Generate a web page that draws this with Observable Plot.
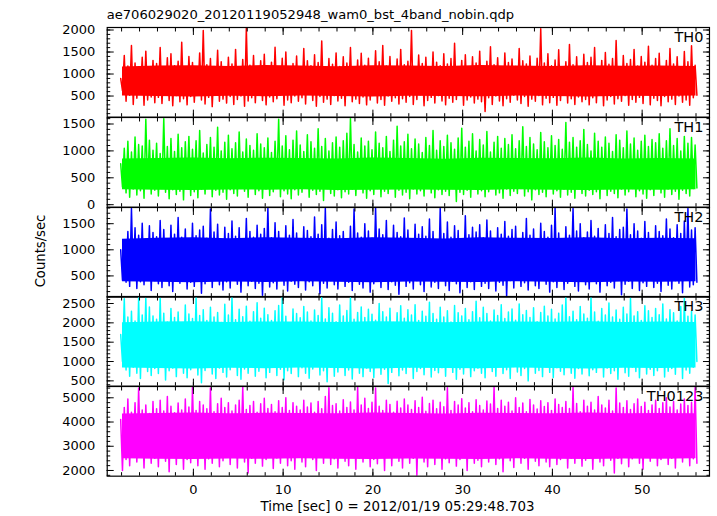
<!DOCTYPE html>
<html>
<head>
<meta charset="utf-8">
<script src="https://cdn.jsdelivr.net/npm/d3@7"></script>
<script src="https://cdn.jsdelivr.net/npm/@observablehq/plot@0.6"></script>
<style>
  html, body { margin: 0; padding: 0; background: white; }
  #chart { position: relative; width: 717px; height: 516px; background: white; color: black; font-family: "DejaVu Sans", sans-serif; overflow: hidden; }
  #chart svg { position: absolute; left: 0; }
  .txt { position: absolute; white-space: nowrap; font-family: "DejaVu Sans", sans-serif; color: black; }
</style>
</head>
<body>
<div id="chart"></div>
<script>
// ---------- data ----------
const titleText = "ae706029020_20120119052948_wam0_bst_4band_nobin.qdp";
const xLabelText = "Time [sec] 0 = 2012/01/19 05:29:48.703";
const yLabelText = "Counts/sec";
const seriesNames = ["TH0", "TH1", "TH2", "TH3", "TH0123"];
const seriesColors = ["#ff0000", "#00ff00", "#0000ff", "#00ffff", "#ff00ff"];

const sampleStart = -8.1;   // s, time of first sample
const sampleStep = 0.2;     // s between samples
const xTicks = [0, 10, 20, 30, 40, 50];

const th0 = [
900,620,1420,380,1180,520,1650,310,1250,450,1080,560,1380,290,1520,410,1150,480,1310,350,
1240,470,1600,330,1120,540,1370,400,1460,280,1190,510,1290,370,1720,440,1130,300,1400,490,
1260,360,1090,520,1480,410,1990,320,1210,470,1350,260,1170,550,1540,380,1280,430,1100,340,
1380,490,1230,310,1560,420,1140,500,1330,270,2040,390,1200,460,1420,350,1120,530,1300,400,
1450,300,1180,480,1270,370,1610,440,1090,520,1360,290,1500,410,1150,350,1240,500,1410,380,
1130,460,1580,320,1300,540,1190,400,1440,270,1260,490,1750,360,1110,430,1350,310,1220,510,
1480,390,1170,450,1390,280,1250,520,1600,370,1080,430,1320,330,1470,480,1200,300,1360,410,
1140,550,1530,340,1280,420,1650,290,1180,500,1400,380,1100,460,1340,320,1560,440,1210,360,
1290,490,1990,310,1150,420,1430,530,1240,280,1380,400,1120,470,1500,340,1270,510,1190,390,
1460,300,1230,450,1350,360,1700,420,1160,520,1310,290,1440,410,1090,480,1390,340,1250,430,
1520,370,1180,150,1290,460,1620,310,1210,500,1370,390,1130,280,1480,440,1260,360,1340,520,
1170,410,1580,330,1300,490,1230,270,1410,430,1120,380,1360,510,2030,300,1250,450,1460,350,
1190,470,1320,290,1550,400,1140,520,1280,340,1670,440,1210,310,1390,480,1100,370,1450,420,
1260,300,1380,460,1600,350,1170,530,1310,280,1490,410,1220,490,1350,320,1760,440,1150,380,
1420,510,1240,290,1330,420,1560,360,1180,470,1400,330,1270,540,1630,300,1200,450,1350,400,
1470,280,1160,490,1310,370,1580,430,1230,310,1390,500,1120,360,1510,410,1280,290,1640,460,
1200,520];

const th1 = [
760,330,1050,220,1180,140,980,290,1260,180,1120,260,1090,120,1590,310,1200,200,1010,270,
1140,160,950,300,1600,230,1080,110,1230,280,990,190,1310,250,1060,90,1170,320,1270,170,
1030,240,1190,130,1380,290,960,200,1120,310,1250,150,1070,270,1440,180,1000,230,1160,100,
1290,280,1040,210,1150,160,1350,300,980,250,1220,140,1100,320,1010,190,1320,260,1130,120,
1060,290,1240,170,970,240,1180,300,1590,150,1090,260,1280,200,1020,110,1200,280,1370,180,
1110,230,990,310,1300,140,1170,270,1050,190,1410,250,1080,80,1230,300,1000,210,1150,160,
1260,280,1070,130,1190,240,1330,200,1600,290,1120,170,980,310,1240,220,1090,120,1180,260,
1020,190,1350,300,1140,150,1060,250,1270,210,990,320,1200,140,1460,270,1090,180,1170,230,
1310,110,1040,290,1220,200,1130,260,970,160,1250,310,1100,220,1380,130,1010,280,1190,190,
1080,250,1290,170,1150,300,1030,60,1240,230,1420,190,1070,270,1180,140,1320,310,1000,200,
1210,260,1110,150,1360,240,980,300,1160,180,1270,220,1050,120,1230,290,1120,170,1300,250,
1040,210,1190,300,1450,160,1080,240,1250,90,1130,280,1020,190,1340,230,1170,150,1060,310,
1280,200,1100,260,1210,140,1030,290,1530,180,1160,230,1250,120,1070,300,1190,210,1400,160,
1120,270,1000,190,1330,240,1180,110,1070,300,1260,170,1140,250,990,210,1300,130,1200,290,
1060,180,1370,240,1130,300,1240,150,1010,260,1180,200,1290,120,1080,280,1210,170,1150,310,
1320,220,1050,140,1190,290,1410,190,1100,250,1230,100,1000,270,1270,210,1140,160,1250,300,
1110,310];

const th2 = [
1000,420,1050,380,1350,300,1790,450,1420,260,1280,390,1510,330,1200,470,1460,220,1330,410,
1250,350,1560,280,1390,460,1180,310,1470,200,1300,430,1620,360,1240,490,1400,250,1150,380,
1510,300,1270,440,1380,170,1450,350,1220,410,1780,280,1340,460,1490,330,1200,230,1430,390,
1310,270,1550,420,1260,340,1420,190,1180,480,1600,310,1350,400,1240,260,1470,360,1300,130,
1410,440,1800,290,1230,370,1520,250,1350,450,1190,320,1460,210,1280,400,1580,340,1320,280,
1200,470,1440,230,1370,390,1250,310,1630,430,1300,160,1480,360,1790,270,1220,410,1390,330,
1530,250,1270,460,1350,300,1190,380,1450,220,1780,420,1320,340,1240,270,1500,410,1360,190,
1220,350,1800,430,1400,280,1290,470,1560,240,1180,390,1470,320,1330,150,1250,440,1610,300,
1380,370,1210,250,1490,410,1300,330,1440,200,1260,460,1590,290,1350,380,1170,260,1790,430,
1310,310,1530,220,1240,400,1460,350,1370,180,1200,470,1650,280,1290,390,1430,240,1340,420,
1480,300,1230,360,1570,260,1360,440,1190,210,1420,380,1300,320,1540,100,1260,410,1390,270,
1450,460,1210,300,1330,370,1600,230,1280,420,1400,310,1170,260,1510,450,1350,340,1240,190,
1470,390,1800,280,1320,420,1190,240,1440,360,1280,470,1790,300,1360,210,1500,400,1230,330,
1340,250,1560,430,1260,350,1410,190,1200,460,1480,310,1310,380,1620,270,1250,420,1390,140,
1430,340,1780,400,1290,260,1500,450,1360,220,1220,370,1540,300,1330,430,1180,280,1460,360,
1350,200,1270,470,1590,320,1400,250,1230,410,1480,360,1310,180,1550,440,1790,290,1380,330,
1420,380];

const th3 = [
1700,1000,2620,780,2150,620,2300,850,2050,700,2640,560,2200,900,2630,740,2410,640,2180,820,
2090,690,2630,880,2250,520,2020,760,2370,830,2140,610,2280,940,1990,700,2460,580,2230,790,
2110,860,2640,650,2190,450,2340,770,2060,910,2400,680,2150,560,2270,830,2010,720,2480,600,
2200,790,2640,870,2080,640,2350,540,2160,810,2430,700,2040,930,2290,620,2520,750,2120,850,
2380,580,2210,720,2060,890,2310,640,2450,800,2650,530,2170,760,2000,690,2360,920,2240,610,
2130,840,2420,700,2280,570,2050,810,2330,890,2190,650,2650,760,2100,480,2390,850,2250,620,
2030,730,2460,900,2180,640,2320,780,2640,550,2090,860,2270,700,2410,610,2140,830,2350,740,
2220,590,2070,880,2500,670,2290,800,2150,430,2380,720,2010,910,2260,630,2440,780,2120,690,
2340,850,2200,560,2470,740,2060,820,2300,660,2170,930,2530,600,2240,770,2090,710,2400,840,
2150,620,2310,890,2020,720,2450,540,2260,800,2180,680,2370,930,2080,610,2290,760,2560,830,
2130,700,2400,580,2240,850,2050,740,2330,620,2190,900,2470,690,2110,790,2280,560,2360,870,
2070,730,2490,640,2210,820,2320,500,2140,890,2390,700,2030,770,2270,610,2430,860,2180,720,
2350,590,2100,840,2250,750,2460,660,2640,910,2160,700,2300,570,2080,820,2420,680,2230,880,
2120,630,2640,790,2280,720,2040,900,2370,600,2200,830,2510,690,2150,760,2330,540,2090,870,
2400,710,2230,620,2630,850,2180,740,2290,580,2060,900,2440,680,2310,800,2140,640,2370,760,
2210,880,2490,600,2100,750,2340,820,2260,670,2050,930,2420,560,2630,780,2170,700,2300,850,
2200,1000];

const th0123 = [
4100,2000,4600,2450,4950,2200,4400,2650,4800,2350,5400,2550,4500,2100,4700,2700,4350,2300,4850,2500,
4550,2150,4900,2600,4450,2380,5050,1950,4650,2550,4380,2250,4780,2700,4500,2050,4950,2450,4620,2320,
5420,2580,4480,2200,4850,2650,4700,2050,4550,2480,5400,2300,4420,2720,4750,2150,4980,2400,4600,2600,
4800,2250,4450,2550,4700,2100,4900,2700,5430,2350,4520,1900,4680,2500,4850,2300,4400,2650,4750,2180,
4980,2450,4560,2600,4720,2080,4420,2520,4880,2300,4600,2750,5000,2200,4480,2400,4800,2050,4650,2580,
4500,2350,4900,2150,4620,2650,4780,2450,4400,2000,4850,2550,4550,2300,5050,2700,5410,2250,4680,2480,
4750,2100,4450,2620,4920,2380,4600,2200,4830,2700,4500,2050,5440,2500,4700,2350,4980,2600,4560,2150,
4820,2450,5400,2280,4650,2650,4480,2000,4900,2550,4720,2200,4400,2720,4860,2380,4580,2100,4950,2600,
4700,2300,4520,2500,4880,1800,4600,2650,5020,2350,4440,2150,4760,2580,4900,2250,4550,2700,4820,2050,
4630,2480,5410,2320,4480,2600,4850,2180,4700,2450,4960,2550,4580,2000,4800,2680,4420,2300,4920,2420,
4680,2150,4500,2600,4870,2350,4740,2700,5430,2250,4560,2480,4900,1950,4650,2550,4820,2400,4450,2120,
5000,2650,4600,2300,4780,2500,4420,2050,4930,2620,4700,2380,4540,2200,4880,2700,4640,2350,4800,2150,
4480,2550,4950,2250,4720,2450,4600,2680,4850,2100,4560,2500,5420,2300,4760,2600,4420,2180,4900,2420,
4650,2700,4820,2050,4500,2550,5050,2350,4700,2200,4580,2650,4900,2420,4450,1900,5400,2500,4780,2280,
4600,2600,4880,2150,4520,2480,4750,2700,4950,2300,4640,2050,4820,2550,4480,2380,4700,2650,4900,2200,
4560,2450,4800,2600,5000,2250,4620,2500,4850,2100,4500,2700,4740,2350,4950,2550,4680,2200,4820,2480,
5420,2300];

// solid core of each band (where the dense trace fills every pixel), read every 4 s
const coreTimes = [-7.9,-4,0,4,8,12,16,20,24,28,32,36,40,44,48,52,56];
const th0CoreLo = [500,490,480,495,485,500,490,480,495,490,485,500,490,480,495,490,500];
const th0CoreHi = [1160,1180,1190,1170,1195,1180,1165,1190,1180,1170,1195,1180,1170,1190,1175,1185,1170];
const th1CoreLo = [280,270,265,275,270,280,265,270,275,270,265,280,270,265,275,270,280];
const th1CoreHi = [850,860,870,855,865,860,850,870,860,845,865,860,855,870,850,860,850];
const th2CoreLo = [390,380,370,385,375,390,380,370,385,380,375,390,380,370,385,380,390];
const th2CoreHi = [1200,1220,1230,1210,1230,1220,1210,1230,1220,1205,1230,1220,1215,1230,1210,1220,1210];
const th3CoreLo = [830,820,810,825,815,830,820,810,825,820,815,830,820,810,825,820,830];
const th3CoreHi = [2000,2020,2030,2010,2025,2020,2010,2030,2020,2005,2025,2020,2015,2030,2010,2020,2010];
const th0123CoreLo = [2480,2460,2450,2470,2460,2480,2460,2450,2470,2460,2455,2480,2460,2450,2470,2460,2480];
const th0123CoreHi = [4330,4350,4370,4340,4360,4350,4340,4370,4350,4330,4360,4350,4345,4370,4340,4355,4340];

// y-axis tick labels per panel
const th0Ticks = [500, 1000, 1500, 2000];
const th1Ticks = [0, 500, 1000, 1500];
const th2Ticks = [500, 1000, 1500];
const th3Ticks = [500, 1000, 1500, 2000, 2500];
const th0123Ticks = [2000, 3000, 4000, 5000];

// ---------- layout ----------
const W = 717;
const mLeft = 106.7, mRight = 8;
const panelTop = 27.3, panelH = 89.68;
const xDomain = [-9.6, 57.5];

const panels = [
  {name: seriesNames[0], color: seriesColors[0], values: th0, cLo: th0CoreLo, cHi: th0CoreHi, domain: [20, 2057], ticks: th0Ticks, minor: 100},
  {name: seriesNames[1], color: seriesColors[1], values: th1, cLo: th1CoreLo, cHi: th1CoreHi, domain: [-46, 1621], ticks: th1Ticks, minor: 100},
  {name: seriesNames[2], color: seriesColors[2], values: th2, cLo: th2CoreLo, cHi: th2CoreHi, domain: [93, 1810], ticks: th2Ticks, minor: 100},
  {name: seriesNames[3], color: seriesColors[3], values: th3, cLo: th3CoreLo, cHi: th3CoreHi, domain: [363, 2681], ticks: th3Ticks, minor: 100},
  {name: seriesNames[4], color: seriesColors[4], values: th0123, cLo: th0123CoreLo, cHi: th0123CoreHi, domain: [1765, 5466], ticks: th0123Ticks, minor: 200}
];

const chart = document.getElementById("chart");
const xMinor = d3.range(-8, 57, 2);
const blank = () => "";

panels.forEach((p, k) => {
  const last = k === panels.length - 1;
  const mt = 4, mb = last ? 40 : 4;
  const rows = p.values.map((v, i) => ({t: sampleStart + i * sampleStep, v}));
  const core = coreTimes.map((t, i) => ({t, lo: p.cLo[i], hi: p.cHi[i]}));
  const minorTicks = d3.range(Math.ceil(p.domain[0] / p.minor) * p.minor, p.domain[1], p.minor);
  const marks = [
    Plot.areaY(core, {x: "t", y1: "lo", y2: "hi", fill: p.color, clip: true}),
    Plot.line(rows, {x: "t", y: "v", stroke: p.color, strokeWidth: 1.5, clip: true}),
    Plot.frame({stroke: "black", strokeWidth: 1.2}),
    Plot.axisY({anchor: "left", ticks: minorTicks, tickSize: -3.5, tickFormat: blank, label: null}),
    Plot.axisY({anchor: "left", ticks: p.ticks, tickSize: -7, tickFormat: blank, label: null}),
    Plot.axisY({anchor: "right", ticks: minorTicks, tickSize: -3.5, tickFormat: blank, label: null}),
    Plot.axisY({anchor: "right", ticks: p.ticks, tickSize: -7, tickFormat: blank, label: null}),
    Plot.axisX({anchor: "top", ticks: xMinor, tickSize: -3.5, tickFormat: blank, label: null}),
    Plot.axisX({anchor: "top", ticks: xTicks, tickSize: -7, tickFormat: blank, label: null}),
    Plot.axisX({anchor: "bottom", ticks: xMinor, tickSize: -3.5, tickFormat: blank, label: null}),
    Plot.axisX({anchor: "bottom", ticks: xTicks, tickSize: -7, tickFormat: blank, label: null}),
    Plot.axisY({anchor: "left", ticks: p.ticks, tickSize: 0, tickPadding: 12, tickFormat: d => String(d), label: null, fontSize: 13}),
    Plot.text([p.name], {frameAnchor: "top-right", text: d => d, textAnchor: "end", lineAnchor: "top", dx: -6, dy: 4.5, fontSize: 14.5, fill: "black"})
  ];
  if (last) {
    marks.push(Plot.axisX({anchor: "bottom", ticks: xTicks, tickSize: 0, tickPadding: 9, tickFormat: d => String(d), label: null, fontSize: 13}));
  }
  const svg = Plot.plot({
    width: W,
    height: panelH + mt + mb,
    marginLeft: mLeft, marginRight: mRight, marginTop: mt, marginBottom: mb,
    x: {domain: xDomain},
    y: {domain: p.domain},
    style: {background: "transparent", fontFamily: "DejaVu Sans", fontSize: "13px", overflow: "visible", color: "black"},
    marks
  });
  svg.style.position = "absolute";
  svg.style.top = (panelTop + k * panelH - mt) + "px";
  svg.style.left = "0px";
  chart.appendChild(svg);
});

// title and axis titles
const title = document.createElement("div");
title.className = "txt";
title.textContent = titleText;
title.style.cssText += "left:106.7px; top:8px; font-size:13.1px; line-height:13px;";
chart.appendChild(title);

const xl = document.createElement("div");
xl.className = "txt";
xl.textContent = xLabelText;
xl.style.cssText += "left:397.5px; top:499.5px; font-size:13.4px; line-height:13px; transform:translateX(-50%);";
chart.appendChild(xl);

const yl = document.createElement("div");
yl.className = "txt";
yl.textContent = yLabelText;
yl.style.cssText += "left:40px; top:251px; font-size:13.2px; line-height:13px; transform:translate(-50%,-50%) rotate(-90deg);";
chart.appendChild(yl);
</script>
</body>
</html>
